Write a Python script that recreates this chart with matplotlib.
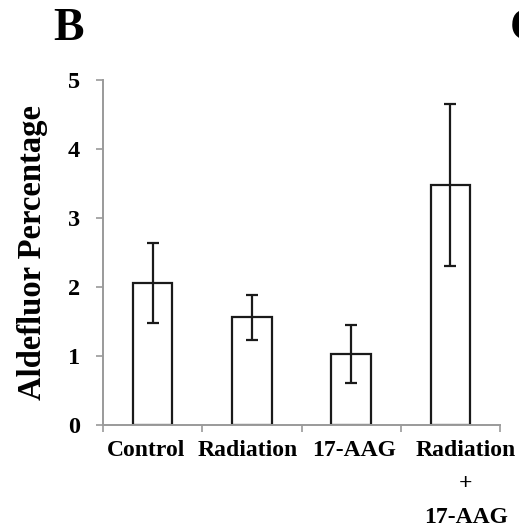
import matplotlib
matplotlib.use("Agg")
import matplotlib.pyplot as plt
from matplotlib.ticker import FixedLocator
from matplotlib.transforms import ScaledTranslation

categories = ["Control", "Radiation", "17-AAG", "Radiation\n+\n17-AAG"]
values = [2.06, 1.56, 1.03, 3.48]
errors = [0.58, 0.33, 0.42, 1.17]
y_ticks = [0, 1, 2, 3, 4, 5]

plt.rcParams["font.family"] = ["Liberation Serif", "DejaVu Serif"]
plt.rcParams["font.weight"] = "bold"

fig = plt.figure(figsize=(5.19, 5.29), dpi=100)
ax = fig.add_axes([103 / 519, 1 - 425 / 529, 397 / 519, 345 / 529])

x = list(range(len(categories)))
ax.bar(x, values, width=0.4, facecolor="white", edgecolor="#1a1a1a", linewidth=1.6)
ax.errorbar(x, values, yerr=errors, fmt="none", ecolor="#1a1a1a",
            elinewidth=1.6, capsize=4.5, capthick=1.6)

ax.set_xlim(-0.5, len(categories) - 0.5)
ax.set_ylim(0, 5)
ax.set_yticks(y_ticks)
ax.set_yticklabels([str(t) for t in y_ticks], fontsize=17.5, fontweight="bold")

ax.set_xticks(x)
ax.set_xticklabels(categories, fontsize=17, fontweight="bold", linespacing=1.8,
                   va="top")
ax.tick_params(axis="x", which="major", length=0, pad=10.5)
ax.xaxis.set_minor_locator(FixedLocator([i - 0.5 for i in range(len(categories) + 1)]))
ax.tick_params(axis="x", which="minor", length=5, width=1.2, color="#9a9a9a", direction="out")
ax.tick_params(axis="y", length=5, width=1.2, color="#9a9a9a", direction="out", pad=11.5)

# nudge category labels sideways (points) so they sit evenly under the bars
nudges = [-5, -3, 2, 11]
for lbl, dx in zip(ax.get_xticklabels(), nudges):
    lbl.set_transform(lbl.get_transform() + ScaledTranslation(dx / 72, 0, fig.dpi_scale_trans))

for side in ("top", "right"):
    ax.spines[side].set_visible(False)
for side in ("left", "bottom"):
    ax.spines[side].set_color("#9a9a9a")
    ax.spines[side].set_linewidth(1.4)

ax.set_ylabel("Aldefluor Percentage", fontsize=23.5, fontweight="bold", labelpad=14)

fig.text(53 / 519, 1 - 40 / 529, "B", fontsize=33, fontweight="bold", ha="left", va="baseline")
fig.text(510 / 519, 1 - 40 / 529, "C", fontsize=33, fontweight="bold", ha="left", va="baseline")

fig.savefig("out.png", dpi=100)
